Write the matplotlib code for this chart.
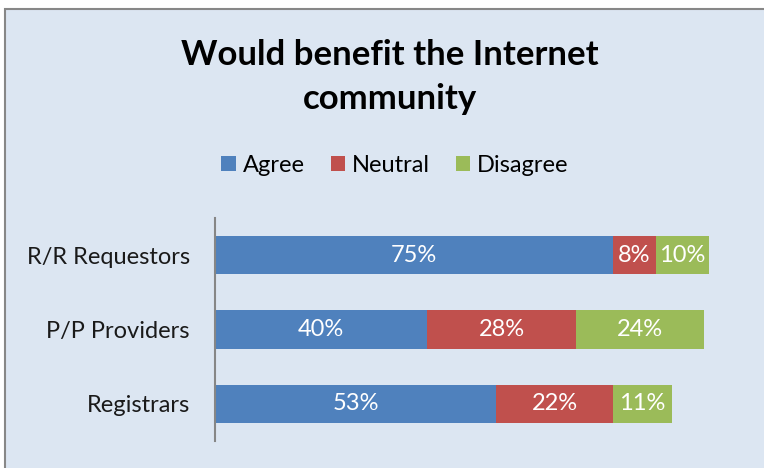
import matplotlib.pyplot as plt
from matplotlib.patches import Rectangle

categories = ['R/R Requestors', 'P/P Providers', 'Registrars']
agree = [75, 40, 53]
neutral = [8, 28, 22]
disagree = [10, 24, 11]
series_names = ['Agree', 'Neutral', 'Disagree']
colors = ['#4F81BD', '#C0504D', '#9BBB59']

plt.rcParams['font.family'] = ['Lato', 'DejaVu Sans']

fig = plt.figure(figsize=(7.64, 4.68), dpi=100, facecolor='white')
W, H = 764, 468

# chart area background with grey frame (right/bottom edges cropped off)
fig.patches.append(Rectangle((5 / W, -0.05), 1.1, 1.05 - 9 / H, transform=fig.transFigure,
                             facecolor='#DCE6F2', edgecolor='#878787',
                             linewidth=1.5, zorder=-1))

ax = fig.add_axes([215 / W, 1 - 441 / H, 531 / W, 223 / H])
ax.set_facecolor('none')

ypos = list(range(len(categories)))
left = [0] * len(categories)
for name, vals, col in zip(series_names, [agree, neutral, disagree], colors):
    bars = ax.barh(ypos, vals, left=left, height=0.515, color=col, label=name)
    for b, v in zip(bars, vals):
        ax.text(b.get_x() + b.get_width() / 2, b.get_y() + b.get_height() / 2,
                f'{v}%', ha='center', va='center', color='white', fontsize=17)
    left = [l + v for l, v in zip(left, vals)]

ax.set_xlim(0, 100)
ax.set_ylim(2.5, -0.5)
ax.set_yticks(ypos)
ax.set_yticklabels(categories, fontsize=17, color='#1a1a1a')
ax.set_xticks([])
ax.tick_params(axis='y', length=0, pad=18)
for s in ['top', 'right', 'bottom']:
    ax.spines[s].set_visible(False)
ax.spines['left'].set_color('#868686')
ax.spines['left'].set_linewidth(1.5)

fig.text(390 / W, 1 - 77 / H, 'Would benefit the Internet\ncommunity',
         ha='center', va='center', fontsize=25, fontweight='bold',
         linespacing=1.45)

fig.legend(loc='center', bbox_to_anchor=(395 / W, 1 - 165 / H), ncol=3,
           frameon=False, fontsize=17, handlelength=0.6, handleheight=0.6,
           handletextpad=0.3, columnspacing=1.1)

fig.savefig('out.png', dpi=100, facecolor='white')
